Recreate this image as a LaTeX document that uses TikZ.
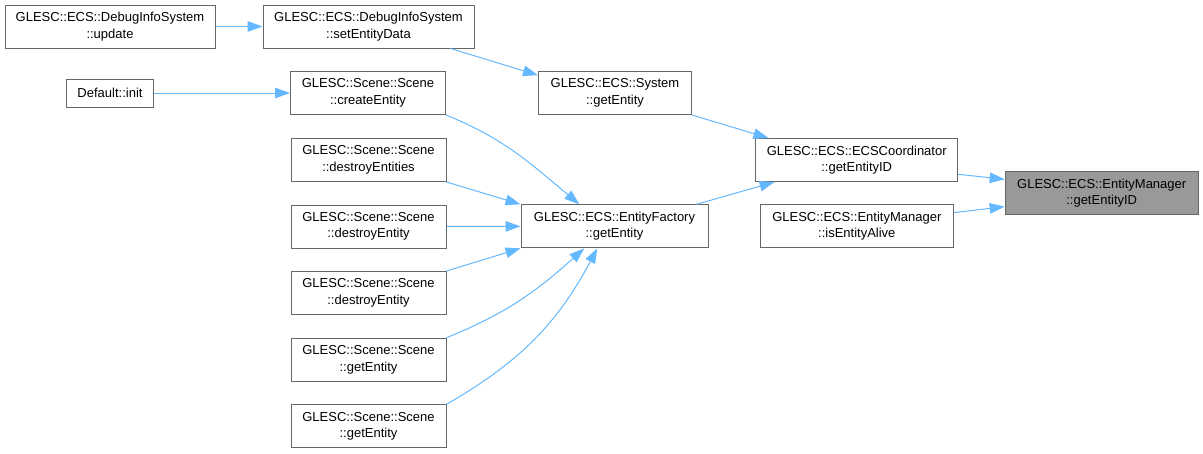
\documentclass[tikz,border=0pt]{standalone}
\usepackage{fontspec}
\setmainfont{Liberation Sans}
\usetikzlibrary{arrows.meta}
\definecolor{edgeblue}{HTML}{63B8FF}
\definecolor{boxgray}{HTML}{666666}
\definecolor{fillgray}{HTML}{999999}
\tikzset{
  fn/.style={draw=boxgray, line width=1pt, fill=white, align=center, inner sep=0pt,
    minimum height=43pt, font=\fontsize{13}{16.5}\selectfont},
  call/.style={draw=edgeblue, line width=1pt, -{Triangle[length=15pt,width=10.5pt]}}
}
\begin{document}
\begin{tikzpicture}[x=1pt,y=1pt]
\useasboundingbox (0,0) rectangle (1203,-453);
\node[fn, minimum width=210pt] (upd) at (110,-26.5) {GLESC::ECS::DebugInfoSystem\\::update};
\node[fn, minimum width=211pt] (sed) at (368.5,-26.5) {GLESC::ECS::DebugInfoSystem\\::setEntityData};
\node[fn, minimum width=87pt, minimum height=28pt] (init) at (110,-93) {Default::init};
\node[fn, minimum width=155pt] (ce) at (368,-93) {GLESC::Scene::Scene\\::createEntity};
\node[fn, minimum width=153pt] (sys) at (615,-93) {GLESC::ECS::System\\::getEntity};
\node[fn, minimum width=155pt] (des) at (368.5,-160) {GLESC::Scene::Scene\\::destroyEntities};
\node[fn, minimum width=202pt] (ecs) at (856.7,-160) {GLESC::ECS::ECSCoordinator\\::getEntityID};
\node[fn, minimum width=193pt, fill=fillgray] (gid) at (1101.7,-193) {GLESC::ECS::EntityManager\\::getEntityID};
\node[fn, minimum width=155pt] (ds1) at (368.5,-226.5) {GLESC::Scene::Scene\\::destroyEntity};
\node[fn, minimum width=187pt] (ef) at (614.5,-226.3) {GLESC::ECS::EntityFactory\\::getEntity};
\node[fn, minimum width=193pt] (ia) at (856.8,-226.3) {GLESC::ECS::EntityManager\\::isEntityAlive};
\node[fn, minimum width=155pt] (ds2) at (368.5,-293) {GLESC::Scene::Scene\\::destroyEntity};
\node[fn, minimum width=155pt] (ge1) at (368.5,-359.7) {GLESC::Scene::Scene\\::getEntity};
\node[fn, minimum width=155pt] (ge2) at (368.5,-426.3) {GLESC::Scene::Scene\\::getEntity};

\draw[call] (upd) -- (sed);
\draw[call] (init) -- (ce);
\draw[call] (sed.-15) -- (sys.167);
\draw[call] (ce.south east) to[out=-22,in=140] (ef.148);
\draw[call] (des.south east) -- (ef.north west);
\draw[call] (ds1) -- (ef);
\draw[call] (ds2.north east) -- (ef.south west);
\draw[call] (ge1.north east) to[out=22,in=-138] (ef.216);
\draw[call] (ge2.north east) to[out=30,in=-118] (ef.232);
\draw[call] (sys.south east) -- (ecs.166);
\draw[call] (ef.15) -- (ecs.195);
\draw[call] (ecs.-8) -- (gid.172);
\draw[call] (ia.8) -- (gid.188);
\end{tikzpicture}
\end{document}
